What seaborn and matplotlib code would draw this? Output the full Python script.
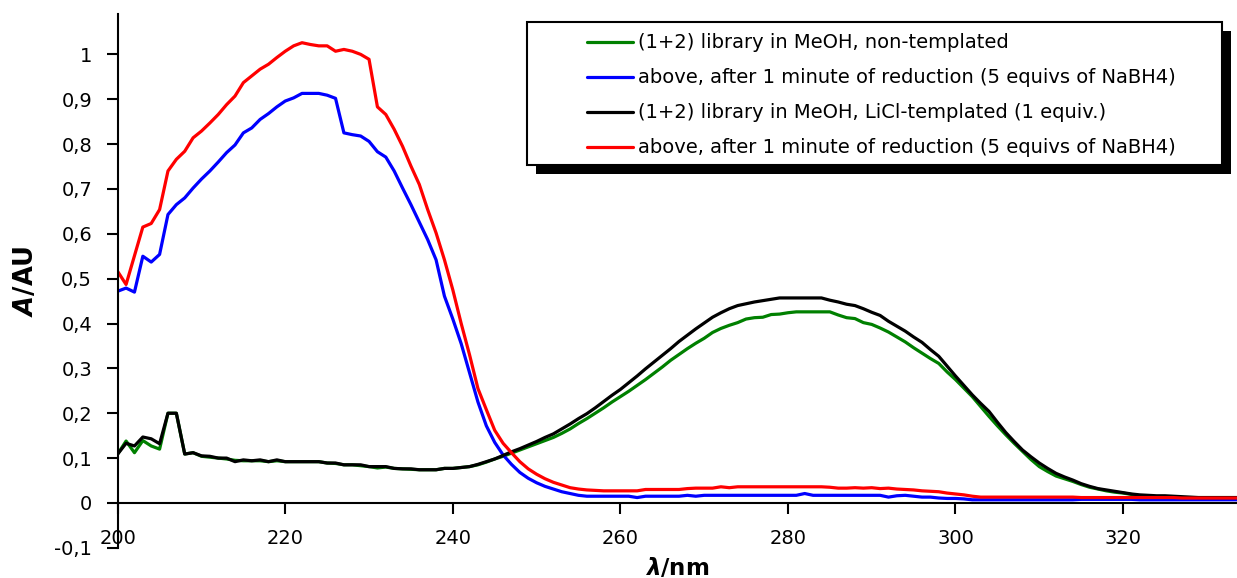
import numpy as np
import pandas as pd
import matplotlib
matplotlib.use("Agg")
import matplotlib.pyplot as plt
import seaborn as sns
from matplotlib.lines import Line2D
from matplotlib.patches import Rectangle
from matplotlib.ticker import FixedLocator, FuncFormatter

# ---------------- data ----------------
wavelength = list(range(200, 335))

green = [
    0.109, 0.138, 0.112, 0.139, 0.127, 0.120, 0.200, 0.200, 0.109, 0.112,
    0.104, 0.102, 0.100, 0.098, 0.095, 0.094, 0.094, 0.094, 0.092, 0.094,
    0.092, 0.092, 0.092, 0.092, 0.092, 0.089, 0.088, 0.085, 0.085, 0.083,
    0.081, 0.078, 0.080, 0.077, 0.076, 0.075, 0.074, 0.074, 0.074, 0.077,
    0.077, 0.079, 0.081, 0.085, 0.091, 0.098, 0.104, 0.111, 0.118, 0.125,
    0.132, 0.139, 0.146, 0.155, 0.165, 0.177, 0.188, 0.200, 0.212, 0.225,
    0.237, 0.249, 0.262, 0.275, 0.289, 0.303, 0.318, 0.331, 0.344, 0.356,
    0.367, 0.380, 0.389, 0.396, 0.402, 0.410, 0.413, 0.414, 0.420, 0.421,
    0.424, 0.426, 0.426, 0.426, 0.426, 0.426, 0.419, 0.413, 0.411, 0.402,
    0.398, 0.390, 0.381, 0.370, 0.359, 0.346, 0.334, 0.322, 0.311, 0.292,
    0.275, 0.256, 0.237, 0.215, 0.193, 0.172, 0.152, 0.133, 0.115, 0.097,
    0.081, 0.070, 0.060, 0.054, 0.048, 0.041, 0.035, 0.031, 0.027, 0.024,
    0.022, 0.019, 0.016, 0.015, 0.014, 0.013, 0.012, 0.012, 0.012, 0.012,
    0.012, 0.012, 0.012, 0.012, 0.012,
]

blue = [
    0.472, 0.479, 0.470, 0.550, 0.537, 0.554, 0.643, 0.665, 0.680, 0.702,
    0.722, 0.740, 0.760, 0.781, 0.798, 0.825, 0.836, 0.855, 0.868, 0.883,
    0.896, 0.903, 0.913, 0.913, 0.913, 0.909, 0.902, 0.825, 0.821, 0.818,
    0.806, 0.783, 0.771, 0.740, 0.702, 0.665, 0.626, 0.587, 0.542, 0.461,
    0.410, 0.355, 0.290, 0.225, 0.172, 0.135, 0.107, 0.086, 0.068, 0.055,
    0.045, 0.037, 0.031, 0.025, 0.021, 0.017, 0.015, 0.015, 0.015, 0.015,
    0.015, 0.015, 0.012, 0.015, 0.015, 0.015, 0.015, 0.015, 0.017, 0.015,
    0.017, 0.017, 0.017, 0.017, 0.017, 0.017, 0.017, 0.017, 0.017, 0.017,
    0.017, 0.017, 0.021, 0.017, 0.017, 0.017, 0.017, 0.017, 0.017, 0.017,
    0.017, 0.017, 0.013, 0.016, 0.017, 0.015, 0.013, 0.013, 0.011, 0.010,
    0.010, 0.009, 0.007, 0.007, 0.007, 0.007, 0.007, 0.007, 0.007, 0.007,
    0.007, 0.007, 0.007, 0.007, 0.007, 0.008, 0.008, 0.008, 0.008, 0.008,
    0.008, 0.008, 0.007, 0.007, 0.007, 0.007, 0.007, 0.007, 0.007, 0.007,
    0.007, 0.007, 0.007, 0.007, 0.007,
]

black = [
    0.109, 0.133, 0.127, 0.147, 0.143, 0.132, 0.200, 0.200, 0.109, 0.112,
    0.105, 0.104, 0.100, 0.100, 0.092, 0.096, 0.094, 0.096, 0.092, 0.096,
    0.092, 0.092, 0.092, 0.092, 0.092, 0.089, 0.089, 0.085, 0.085, 0.085,
    0.081, 0.081, 0.081, 0.077, 0.076, 0.076, 0.074, 0.074, 0.074, 0.077,
    0.077, 0.079, 0.081, 0.086, 0.092, 0.098, 0.106, 0.114, 0.121, 0.129,
    0.137, 0.146, 0.154, 0.165, 0.176, 0.188, 0.199, 0.212, 0.226, 0.240,
    0.253, 0.268, 0.283, 0.299, 0.314, 0.329, 0.344, 0.360, 0.374, 0.388,
    0.401, 0.414, 0.424, 0.433, 0.440, 0.444, 0.448, 0.451, 0.454, 0.457,
    0.457, 0.457, 0.457, 0.457, 0.457, 0.452, 0.448, 0.443, 0.440, 0.433,
    0.425, 0.418, 0.405, 0.394, 0.383, 0.370, 0.358, 0.342, 0.327, 0.305,
    0.283, 0.262, 0.241, 0.222, 0.204, 0.180, 0.157, 0.137, 0.118, 0.103,
    0.089, 0.077, 0.066, 0.058, 0.051, 0.043, 0.037, 0.032, 0.029, 0.026,
    0.023, 0.020, 0.018, 0.017, 0.016, 0.016, 0.015, 0.014, 0.013, 0.012,
    0.012, 0.012, 0.012, 0.012, 0.012,
]

red = [
    0.516, 0.487, 0.551, 0.615, 0.623, 0.654, 0.740, 0.766, 0.784, 0.814,
    0.829, 0.847, 0.866, 0.888, 0.907, 0.937, 0.952, 0.967, 0.978, 0.993,
    1.007, 1.019, 1.026, 1.022, 1.019, 1.019, 1.007, 1.011, 1.007, 1.000,
    0.989, 0.883, 0.866, 0.833, 0.795, 0.751, 0.710, 0.654, 0.602, 0.542,
    0.475, 0.400, 0.330, 0.255, 0.208, 0.162, 0.133, 0.112, 0.092, 0.076,
    0.064, 0.054, 0.046, 0.040, 0.034, 0.031, 0.029, 0.028, 0.027, 0.027,
    0.027, 0.027, 0.027, 0.030, 0.030, 0.030, 0.030, 0.030, 0.032, 0.033,
    0.033, 0.033, 0.036, 0.034, 0.036, 0.036, 0.036, 0.036, 0.036, 0.036,
    0.036, 0.036, 0.036, 0.036, 0.036, 0.035, 0.033, 0.033, 0.034, 0.033,
    0.034, 0.032, 0.033, 0.031, 0.030, 0.029, 0.027, 0.026, 0.025, 0.022,
    0.020, 0.018, 0.015, 0.013, 0.013, 0.013, 0.013, 0.013, 0.013, 0.013,
    0.013, 0.013, 0.013, 0.013, 0.013, 0.012, 0.012, 0.012, 0.012, 0.012,
    0.012, 0.012, 0.012, 0.012, 0.012, 0.012, 0.012, 0.011, 0.011, 0.011,
    0.011, 0.011, 0.011, 0.011, 0.011,
]

series_labels = [
    "(1+2) library in MeOH, non-templated",
    "above, after 1 minute of reduction (5 equivs of NaBH4)",
    "(1+2) library in MeOH, LiCl-templated (1 equiv.)",
    "above, after 1 minute of reduction (5 equivs of NaBH4)",
]
series_colors = ["#008000", "#0000FF", "#000000", "#FF0000"]
x_ticks = [200, 220, 240, 260, 280, 300, 320]
y_ticks = [-0.1, 0.0, 0.1, 0.2, 0.3, 0.4, 0.5, 0.6, 0.7, 0.8, 0.9, 1.0]

# ---------------- style ----------------
sns.set_style("ticks")
plt.rcParams["font.family"] = ["DejaVu Sans"]
plt.rcParams["text.color"] = "black"
plt.rcParams["axes.labelcolor"] = "black"
use_math = True
try:
    plt.rcParams["mathtext.fontset"] = "custom"
    plt.rcParams["mathtext.rm"] = "DejaVu Sans"
    plt.rcParams["mathtext.bf"] = "DejaVu Sans:bold"
    plt.rcParams["mathtext.it"] = "DejaVu Sans:italic"
    plt.rcParams["mathtext.bfit"] = "DejaVu Sans:italic:bold"
except Exception:
    use_math = False

W, H = 1237, 578
fig = plt.figure(figsize=(W / 100, H / 100), dpi=100)
fig.patch.set_facecolor("white")

ax_left, ax_right, ax_top, ax_bottom = 117.7, 1237.0, 14.0, 547.8
ax = fig.add_axes([ax_left / W, 1 - ax_bottom / H,
                   (ax_right - ax_left) / W, (ax_bottom - ax_top) / H])
ax.set_facecolor("white")

all_series = [green, blue, black, red]
for vals, col in zip(all_series, series_colors):
    df = pd.DataFrame({"wavelength": wavelength, "A": vals})
    sns.lineplot(data=df, x="wavelength", y="A", color=col, linewidth=2.3,
                 estimator=None, sort=False, legend=False, ax=ax)

ax.set_xlim(200, 333.6)
ax.set_ylim(-0.1, 1.09)

for s in ["top", "right"]:
    ax.spines[s].set_visible(False)
ax.spines["bottom"].set_position(("data", 0))
for s in ["bottom", "left"]:
    ax.spines[s].set_color("black")
    ax.spines[s].set_linewidth(1.5)

ax.xaxis.set_major_locator(FixedLocator(x_ticks))
ax.yaxis.set_major_locator(FixedLocator(y_ticks))
ax.xaxis.set_major_formatter(FuncFormatter(lambda v, p: "%d" % round(v)))
ax.yaxis.set_major_formatter(
    FuncFormatter(lambda v, p: ("%g" % round(v, 2)).replace(".", ",")))
ax.tick_params(axis="both", which="major", direction="out", length=8,
               width=1.5, color="black", labelcolor="black", labelsize=14,
               bottom=True, left=True)
ax.tick_params(axis="x", pad=10.5)
ax.tick_params(axis="y", pad=10.5)
ax.grid(False)

if use_math:
    xlab = r"$\mathbfit{\lambda}$/nm"
    ylab = r"$\mathbfit{A}$/AU"
else:
    xlab = "λ/nm"
    ylab = "A/AU"
ax.set_xlabel(xlab, fontsize=16.5, fontweight="bold", va="top", color="black")
ax.set_ylabel(ylab, fontsize=18.5, fontweight="bold", color="black")
ax.xaxis.set_label_coords(0.5, -0.0146)
ax.yaxis.set_label_coords(-0.070, 0.5)

# ---------------- legend ----------------
def fx(px):
    return px / W


def fy(py):
    return 1 - py / H


box_l, box_t, box_r, box_b = 527, 22, 1222, 165
shadow_off = 9
shadow = Rectangle((fx(box_l + shadow_off), fy(box_b + shadow_off)),
                   fx(box_r - box_l), (box_b - box_t) / H,
                   transform=fig.transFigure, facecolor="black",
                   edgecolor="black", lw=0, zorder=6, clip_on=False)
frame = Rectangle((fx(box_l), fy(box_b)), fx(box_r - box_l),
                  (box_b - box_t) / H, transform=fig.transFigure,
                  facecolor="white", edgecolor="black", lw=1.5,
                  zorder=6.1, clip_on=False)
ax.add_artist(shadow)
ax.add_artist(frame)

handles = [Line2D([], [], color=c, lw=2.3) for c in series_colors]
leg = ax.legend(handles, series_labels, loc="upper left",
                bbox_to_anchor=(fx(587), fy(33.5)),
                bbox_transform=fig.transFigure, frameon=False,
                borderpad=0, borderaxespad=0, fontsize=14,
                handlelength=46 / 19.44, handletextpad=0.26,
                labelspacing=0.82, labelcolor="black")
leg.set_zorder(7)

try:
    fig.canvas.draw()
except Exception:
    ax.set_xlabel("λ/nm", fontsize=16.5, fontweight="bold", va="top")
    ax.set_ylabel("A/AU", fontsize=18.5, fontweight="bold")
    ax.xaxis.set_label_coords(0.5, -0.0146)
    ax.yaxis.set_label_coords(-0.070, 0.5)

fig.savefig("out.png", dpi=100, facecolor="white")
